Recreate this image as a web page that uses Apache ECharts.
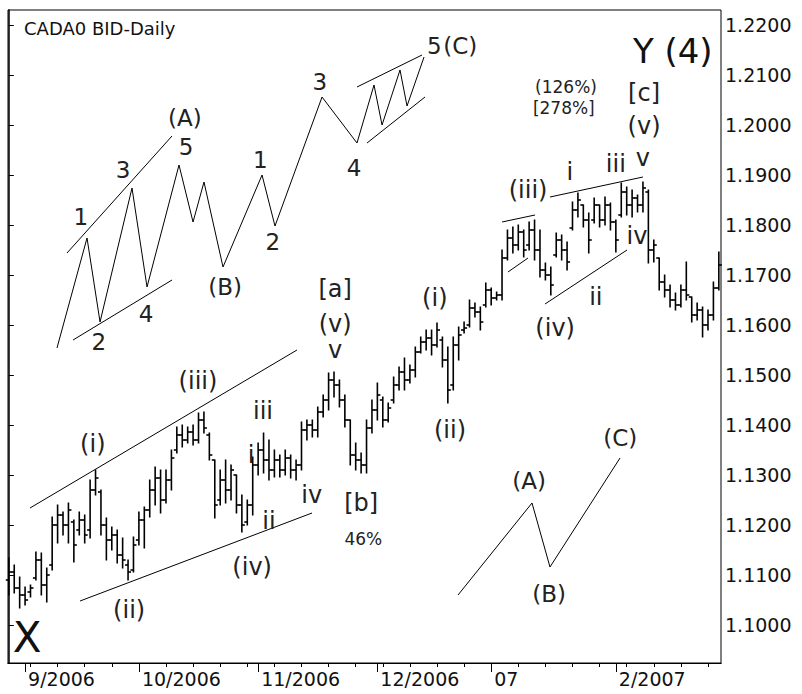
<!DOCTYPE html>
<html><head><meta charset="utf-8">
<script src="https://cdn.jsdelivr.net/npm/echarts@6/dist/echarts.min.js"></script>
<style>html,body{margin:0;padding:0;background:#fff}#c{width:802px;height:694px}</style>
</head><body><div id="c"></div>
<script>
// ---- price bars (trading-day index 0 = 29 Aug 2006) ----
const opens = [
1.1090,1.1106,1.1074,1.1060,1.1066,1.1094,1.1130,1.1080,1.1120,1.1200,
1.1220,1.1200,1.1206,1.1190,1.1210,1.1190,1.1270,1.1266,1.1200,1.1170,
1.1180,1.1140,1.1120,1.1110,1.1170,1.1210,1.1230,1.1270,1.1294,1.1250,
1.1290,1.1350,1.1380,1.1370,1.1386,1.1370,1.1410,1.1380,1.1330,1.1250,
1.1290,1.1270,1.1300,1.1240,1.1206,1.1240,1.1320,1.1350,1.1330,1.1310,
1.1330,1.1310,1.1334,1.1310,1.1320,1.1390,1.1400,1.1390,1.1426,1.1450,
1.1490,1.1480,1.1450,1.1410,1.1340,1.1330,1.1320,1.1394,1.1430,1.1450,
1.1410,1.1450,1.1480,1.1506,1.1490,1.1510,1.1546,1.1566,1.1574,1.1560,
1.1570,1.1530,1.1480,1.1560,1.1590,1.1600,1.1634,1.1626,1.1640,1.1670,
1.1654,1.1660,1.1734,1.1774,1.1760,1.1786,1.1760,1.1790,1.1750,1.1710,
1.1700,1.1740,1.1770,1.1750,1.1794,1.1830,1.1840,1.1810,1.1810,1.1840,
1.1810,1.1840,1.1806,1.1820,1.1866,1.1840,1.1854,1.1840,1.1866,1.1750,
1.1734,1.1686,1.1670,1.1650,1.1640,1.1670,1.1656,1.1620,1.1630,1.1600,
1.1620,1.1674];
const highs = [
1.1134,1.1120,1.1096,1.1076,1.1080,1.1146,1.1144,1.1114,1.1216,1.1240,
1.1226,1.1244,1.1210,1.1226,1.1220,1.1290,1.1310,1.1270,1.1214,1.1196,
1.1190,1.1174,1.1130,1.1176,1.1226,1.1236,1.1290,1.1316,1.1310,1.1310,
1.1350,1.1396,1.1400,1.1396,1.1400,1.1424,1.1426,1.1384,1.1330,1.1310,
1.1330,1.1320,1.1300,1.1260,1.1250,1.1336,1.1364,1.1384,1.1370,1.1350,
1.1340,1.1350,1.1340,1.1330,1.1406,1.1410,1.1410,1.1436,1.1460,1.1504,
1.1506,1.1490,1.1460,1.1410,1.1364,1.1344,1.1410,1.1450,1.1484,1.1456,
1.1444,1.1496,1.1516,1.1534,1.1520,1.1556,1.1576,1.1590,1.1590,1.1604,
1.1576,1.1556,1.1576,1.1596,1.1606,1.1650,1.1644,1.1636,1.1684,1.1674,
1.1666,1.1750,1.1790,1.1796,1.1800,1.1790,1.1806,1.1810,1.1790,1.1724,
1.1716,1.1784,1.1780,1.1766,1.1846,1.1864,1.1840,1.1824,1.1854,1.1840,
1.1856,1.1844,1.1810,1.1884,1.1876,1.1870,1.1860,1.1886,1.1870,1.1770,
1.1734,1.1700,1.1680,1.1664,1.1680,1.1726,1.1656,1.1644,1.1636,1.1630,
1.1686,1.1746];
const lows = [
1.1060,1.1064,1.1034,1.1040,1.1056,1.1090,1.1060,1.1046,1.1110,1.1164,
1.1180,1.1164,1.1126,1.1180,1.1164,1.1174,1.1260,1.1180,1.1130,1.1150,
1.1124,1.1114,1.1090,1.1106,1.1160,1.1154,1.1216,1.1240,1.1224,1.1244,
1.1270,1.1344,1.1356,1.1364,1.1360,1.1364,1.1384,1.1330,1.1214,1.1240,
1.1244,1.1250,1.1224,1.1186,1.1200,1.1220,1.1300,1.1304,1.1290,1.1296,
1.1296,1.1300,1.1294,1.1290,1.1310,1.1370,1.1376,1.1376,1.1416,1.1430,
1.1456,1.1436,1.1396,1.1320,1.1310,1.1304,1.1304,1.1384,1.1410,1.1396,
1.1406,1.1444,1.1470,1.1470,1.1484,1.1496,1.1544,1.1550,1.1540,1.1556,
1.1516,1.1444,1.1470,1.1530,1.1584,1.1596,1.1616,1.1590,1.1636,1.1640,
1.1650,1.1650,1.1730,1.1744,1.1750,1.1736,1.1750,1.1730,1.1696,1.1690,
1.1660,1.1736,1.1730,1.1710,1.1790,1.1816,1.1796,1.1744,1.1804,1.1796,
1.1800,1.1790,1.1746,1.1816,1.1820,1.1816,1.1826,1.1826,1.1724,1.1726,
1.1670,1.1656,1.1636,1.1630,1.1636,1.1650,1.1606,1.1610,1.1576,1.1590,
1.1610,1.1670];
const closes = [
1.1106,1.1074,1.1060,1.1050,1.1074,1.1130,1.1080,1.1100,1.1200,1.1220,
1.1200,1.1230,1.1160,1.1210,1.1180,1.1270,1.1294,1.1200,1.1170,1.1180,
1.1140,1.1130,1.1106,1.1160,1.1210,1.1230,1.1270,1.1294,1.1250,1.1290,
1.1334,1.1380,1.1370,1.1386,1.1370,1.1410,1.1394,1.1340,1.1240,1.1290,
1.1270,1.1310,1.1240,1.1200,1.1240,1.1320,1.1350,1.1330,1.1310,1.1330,
1.1310,1.1334,1.1310,1.1320,1.1390,1.1400,1.1390,1.1426,1.1450,1.1490,
1.1480,1.1450,1.1410,1.1340,1.1330,1.1320,1.1394,1.1430,1.1460,1.1410,
1.1434,1.1480,1.1506,1.1490,1.1510,1.1546,1.1566,1.1574,1.1560,1.1590,
1.1530,1.1470,1.1560,1.1580,1.1594,1.1634,1.1626,1.1606,1.1670,1.1654,
1.1660,1.1734,1.1774,1.1760,1.1786,1.1750,1.1790,1.1750,1.1710,1.1700,
1.1680,1.1770,1.1750,1.1726,1.1830,1.1850,1.1810,1.1770,1.1840,1.1810,
1.1840,1.1806,1.1770,1.1866,1.1840,1.1854,1.1840,1.1874,1.1750,1.1760,
1.1686,1.1670,1.1650,1.1640,1.1670,1.1660,1.1620,1.1630,1.1600,1.1620,
1.1674,1.1720];

// ---- axes ----
const monthStartIdx = [3, 24, 46, 68, 89, 112];
const monthLabels = ['9/2006', '10/2006', '11/2006', '12/2006', '07', '2/2007'];
const mondayIdx = [4,9,14,19,24,29,34,39,44,49,54,59,64,69,74,79,84,89,94,99,104,109,114,119,124,129];
const priceTicks = [1.10,1.11,1.12,1.13,1.14,1.15,1.16,1.17,1.18,1.19,1.20,1.21,1.22];

// ---- wave labels on the price bars [text, dayIndex, price] ----
const waveText = ['(i)','(iii)','(ii)','(iv)','iii','i','iv','ii','[a]','(v)','v','[b]',
  '(i)','(ii)','(iii)','i','iii','v','(v)','[c]','iv','ii','(iv)'];
const waveX = [15.5,34.9,22.2,44.9,46.9,44.7,55.9,48.0,60.2,60.2,60.2,65.0,
  78.6,81.4,95.8,103.5,112.0,117.0,117.2,117.2,115.9,108.3,100.8];
const waveY = [1.1362,1.1488,1.1030,1.1116,1.1428,1.1340,1.1260,1.1208,1.1672,1.1602,1.1550,1.1244,
  1.1654,1.1390,1.1870,1.1906,1.1922,1.1934,1.1998,1.2064,1.1778,1.1656,1.1594];

const noteText = ['46%', '(126%)', '[278%]'];
const noteX = [65.4, 102.8, 102.4];
const noteY = [1.1172, 1.2076, 1.2034];

const bigText = ['Y (4)', 'X'];
const bigX = [122.5, 3.4];
const bigY = [1.2148, 1.0976];

// schematic diagrams
const schemText = ['1','3','(A)','5','1','2','4','(B)','2','3','4','5','(C)','(A)','(B)','(C)'];
const schemX = [13.3,21.1,32.5,32.7,46.4,16.6,25.3,39.9,48.7,57.4,63.7,78.5,83.3,96.0,99.7,112.8];
const schemY = [1.1816,1.1910,1.2014,1.1956,1.1930,1.1566,1.1622,1.1676,1.1766,1.2086,1.1914,1.2158,1.2158,1.1288,1.1062,1.1374];

const zigzagX = [8.89,14.43,16.83,22.73,25.50,31.40,33.99,36.01,39.52,46.72,49.11,57.79,64.24,67.38,68.86,72.18,73.47,76.61];
const zigzagY = [1.1554,1.1774,1.1606,1.1874,1.1676,1.1920,1.1806,1.1886,1.1716,1.1900,1.1798,1.2056,1.1964,1.2080,1.2000,1.2110,1.2038,1.2136];
const abcX = [82.88, 96.53, 99.85, 112.77];
const abcY = [1.1060, 1.1244, 1.1116, 1.1334];

// straight trend / channel lines: [x1, y1, x2, y2]
const trendLines = [
  [3.91, 1.1234, 53.17, 1.1550],
  [13.14, 1.1048, 55.94, 1.1224],
  [91.0, 1.1806, 97.08, 1.1820],
  [92.1, 1.1706, 95.79, 1.1734],
  [99.85, 1.1856, 117.0, 1.1896],
  [98.93, 1.1642, 114.06, 1.1750],
  [10.74, 1.1744, 30.11, 1.1978],
  [11.85, 1.1570, 30.11, 1.1690],
  [64.24, 1.2076, 76.24, 1.2140],
  [66.09, 1.1964, 76.79, 1.2056]
];

const FONT = 'DejaVu Sans';
const chart = echarts.init(document.getElementById('c'), null, {renderer: 'svg'});

const ohlcData = opens.map((o, i) => [i, o, highs[i], lows[i], closes[i]]);

function textSeries(texts, xs, ys, size, color) {
  return {
    type: 'custom', silent: true, z: 5, clip: false,
    data: xs.map((x, i) => [x, ys[i]]),
    encode: {x: 0, y: 1},
    renderItem: function (params, api) {
      const p = api.coord([api.value(0), api.value(1)]);
      return {type: 'text', x: p[0], y: p[1],
        style: {text: texts[params.dataIndex], fontSize: size, fontFamily: FONT,
          fill: color, align: 'center', verticalAlign: 'middle'}};
    }
  };
}
function lineSeries(data) {
  return {type: 'line', data: data, symbol: 'none', silent: true, z: 3,
    lineStyle: {color: '#000', width: 1}, animation: false};
}

const series = [{
  type: 'custom', z: 4,
  data: ohlcData,
  encode: {x: 0, y: [1, 2, 3, 4]},
  renderItem: function (params, api) {
    const x = api.value(0);
    const o = api.coord([x, api.value(1)]);
    const h = api.coord([x, api.value(2)]);
    const l = api.coord([x, api.value(3)]);
    const c = api.coord([x, api.value(4)]);
    const st = {stroke: '#000', lineWidth: 1.6};
    return {type: 'group', children: [
      {type: 'line', shape: {x1: h[0], y1: h[1] - 0.5, x2: l[0], y2: l[1] + 0.5}, style: st},
      {type: 'line', shape: {x1: o[0] - 3, y1: o[1], x2: o[0], y2: o[1]}, style: st},
      {type: 'line', shape: {x1: c[0], y1: c[1], x2: c[0] + 3, y2: c[1]}, style: st}
    ]};
  }
}];
trendLines.forEach(t => series.push(lineSeries([[t[0], t[1]], [t[2], t[3]]])));
series.push(lineSeries(zigzagX.map((x, i) => [x, zigzagY[i]])));
series.push(lineSeries(abcX.map((x, i) => [x, abcY[i]])));
series.push(textSeries(waveText, waveX, waveY, 24, '#222'));
series.push(textSeries(schemText, schemX, schemY, 23, '#222'));
series.push(textSeries(noteText, noteX, noteY, 17, '#222'));
series.push(textSeries(bigText.slice(0, 1), bigX.slice(0, 1), bigY.slice(0, 1), 34, '#111'));
series.push(textSeries(bigText.slice(1), bigX.slice(1), bigY.slice(1), 42, '#111'));

const xCommon = {type: 'value', min: -0.15, max: 131.4, position: 'bottom',
  splitLine: {show: false}, axisLine: {show: true, onZero: false, lineStyle: {color: '#000', width: 1}}};

chart.setOption({
  animation: false,
  backgroundColor: '#fff',
  title: {text: 'CADA0 BID-Daily', left: 19, top: 14,
    textStyle: {fontSize: 18, fontWeight: 'normal', fontFamily: FONT, color: '#111'}},
  grid: {left: 8, top: 10, width: 713, height: 653, show: true, borderColor: '#000', borderWidth: 1},
  xAxis: [
    Object.assign({}, xCommon, {
      axisTick: {show: true, length: 4, customValues: mondayIdx, lineStyle: {color: '#000'}},
      axisLabel: {show: false}
    }),
    Object.assign({}, xCommon, {
      axisTick: {show: true, length: 9, customValues: monthStartIdx, lineStyle: {color: '#000'}},
      axisLabel: {show: true, customValues: monthStartIdx, align: 'left', margin: 6,
        padding: [0, 0, 0, 3], fontSize: 19, fontFamily: FONT, color: '#111',
        formatter: v => monthLabels[monthStartIdx.indexOf(Math.round(v))] || ''}
    })
  ],
  yAxis: {type: 'value', position: 'right', min: 1.0924, max: 1.223,
    splitLine: {show: false},
    axisLine: {show: true, lineStyle: {color: '#000', width: 1.5}},
    axisTick: {show: true, length: 5, customValues: priceTicks, lineStyle: {color: '#000'}},
    axisLabel: {show: true, customValues: priceTicks, margin: 4, fontSize: 19, fontFamily: FONT,
      color: '#111', formatter: v => v.toFixed(4)}
  },
  series: series
});
</script></body></html>
